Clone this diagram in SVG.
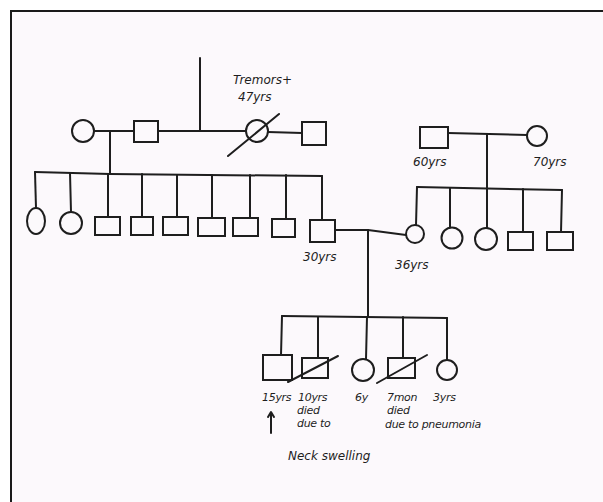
<svg xmlns="http://www.w3.org/2000/svg" width="603" height="502" viewBox="0 0 603 502">
<style>
.s{fill:none;stroke:#1e1e1e;stroke-width:2;stroke-linecap:round;stroke-linejoin:round}
.n rect,.n circle,.n ellipse{fill:none;stroke:#1e1e1e;stroke-width:2}
.t{font-family:"DejaVu Sans",sans-serif;font-style:italic;font-size:12px;fill:#1e1e1e}
.k{font-size:11px;letter-spacing:-0.3px}
</style>
<rect x="0" y="0" width="603" height="502" fill="#ffffff"/>
<rect x="11" y="11" width="600" height="500" fill="#fcf9fc" stroke="#1a1a1a" stroke-width="2"/>
<g id="connectors" class="s">
<line x1="200" y1="58" x2="200" y2="131"/>
<line x1="94" y1="131" x2="134" y2="131"/>
<line x1="158" y1="131" x2="246" y2="131"/>
<line x1="268" y1="132" x2="302" y2="133"/>
<line x1="110" y1="131" x2="110" y2="174"/>
<polyline points="35,172 110,174 322,176"/>
<line x1="35" y1="172" x2="36" y2="208"/>
<line x1="70" y1="173" x2="71" y2="212"/>
<line x1="108" y1="174" x2="108" y2="217"/>
<line x1="142" y1="174" x2="142" y2="217"/>
<line x1="177" y1="175" x2="177" y2="217"/>
<line x1="212" y1="175" x2="212" y2="218"/>
<line x1="250" y1="175" x2="250" y2="218"/>
<line x1="286" y1="175" x2="286" y2="219"/>
<line x1="322" y1="176" x2="322" y2="220"/>
<line x1="448" y1="133" x2="527" y2="135"/>
<line x1="487" y1="134" x2="487" y2="228"/>
<line x1="417" y1="187" x2="562" y2="190"/>
<line x1="417" y1="187" x2="416" y2="225"/>
<line x1="450" y1="188" x2="450" y2="227"/>
<line x1="523" y1="189" x2="523" y2="232"/>
<line x1="562" y1="190" x2="561" y2="232"/>
<polyline points="335,230 368,230 406,235"/>
<line x1="368" y1="230" x2="368" y2="317"/>
<line x1="282" y1="316" x2="447" y2="318"/>
<line x1="282" y1="316" x2="281" y2="355"/>
<line x1="318" y1="317" x2="318" y2="358"/>
<line x1="367" y1="317" x2="366" y2="359"/>
<line x1="403" y1="317" x2="403" y2="358"/>
<line x1="447" y1="318" x2="447" y2="360"/>
</g>
<g id="gm1" class="n"><circle cx="83" cy="131" r="11"/></g>
<g id="gf1" class="n"><rect x="134" y="121" width="24" height="21"/></g>
<g id="gm2" class="n"><circle cx="257" cy="131" r="11"/><line x1="228" y1="156" x2="279" y2="114" class="s"/>
<text class="t" x="233" y="84">Tremors+</text><text class="t" x="238" y="101">47yrs</text></g>
<g id="gf2" class="n"><rect x="302" y="122" width="24" height="23"/></g>
<g id="c1" class="n"><ellipse cx="36" cy="221" rx="9" ry="13"/></g>
<g id="c2" class="n"><circle cx="71" cy="223" r="11"/></g>
<g id="c3" class="n"><rect x="95" y="217" width="25" height="18"/></g>
<g id="c4" class="n"><rect x="131" y="217" width="22" height="18"/></g>
<g id="c5" class="n"><rect x="163" y="217" width="25" height="18"/></g>
<g id="c6" class="n"><rect x="198" y="218" width="27" height="18"/></g>
<g id="c7" class="n"><rect x="233" y="218" width="25" height="18"/></g>
<g id="c8" class="n"><rect x="272" y="219" width="23" height="18"/></g>
<g id="father" class="n"><rect x="310" y="220" width="25" height="22"/><text class="t" x="303" y="261">30yrs</text></g>
<g id="pgf" class="n"><rect x="420" y="127" width="28" height="21"/><text class="t" x="413" y="166">60yrs</text></g>
<g id="pgm" class="n"><circle cx="537" cy="136" r="10"/><text class="t" x="533" y="166">70yrs</text></g>
<g id="mother" class="n"><circle cx="415" cy="234" r="9"/><text class="t" x="395" y="269">36yrs</text></g>
<g id="s2" class="n"><circle cx="452" cy="238" r="10.5"/></g>
<g id="s3" class="n"><circle cx="486" cy="239" r="11"/></g>
<g id="s4" class="n"><rect x="508" y="232" width="25" height="18"/></g>
<g id="s5" class="n"><rect x="547" y="232" width="26" height="18"/></g>
<g id="k1" class="n"><rect x="263" y="355" width="29" height="25"/><text class="t k" x="262" y="401">15yrs</text>
<line x1="271" y1="433" x2="271" y2="413" class="s"/><polyline points="268,417 271,412 274,417" class="s"/></g>
<g id="k2" class="n"><rect x="302" y="358" width="26" height="20"/><line x1="288" y1="382" x2="338" y2="356" class="s"/>
<text class="t k" x="298" y="401">10yrs</text><text class="t k" x="297" y="414">died</text><text class="t k" x="297" y="427">due to</text><text class="t" x="288" y="460">Neck swelling</text></g>
<g id="k3" class="n"><circle cx="363" cy="370" r="11"/><text class="t k" x="355" y="401">6y</text></g>
<g id="k4" class="n"><rect x="388" y="358" width="27" height="20"/><line x1="377" y1="383" x2="427" y2="355" class="s"/>
<text class="t k" x="387" y="401">7mon</text><text class="t k" x="387" y="414">died</text><text class="t k" x="385" y="428">due to pneumonia</text></g>
<g id="k5" class="n"><circle cx="447" cy="370" r="10"/><text class="t k" x="433" y="401">3yrs</text></g>
</svg>
